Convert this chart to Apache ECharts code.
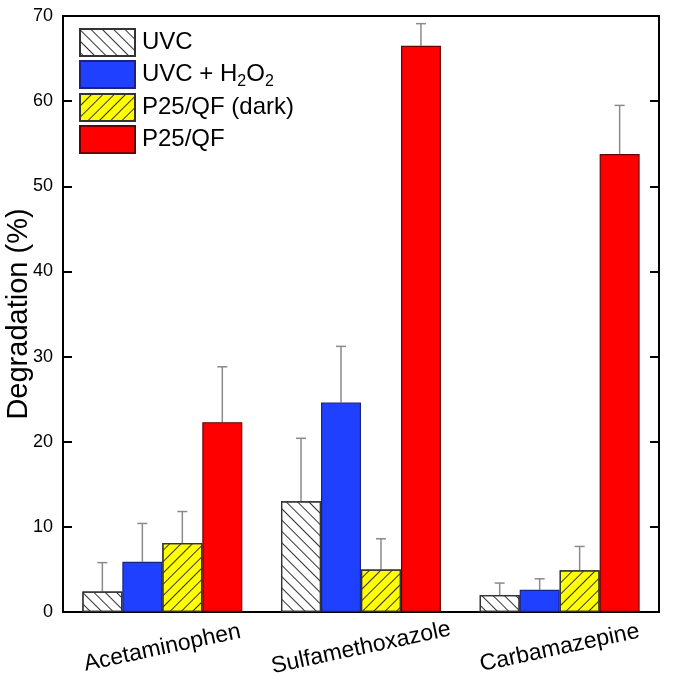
<!DOCTYPE html>
<html>
<head>
<meta charset="utf-8">
<script src="https://cdn.jsdelivr.net/npm/echarts@6/dist/echarts.min.js"></script>
<style>
  html, body { margin: 0; padding: 0; background: #fff; }
  #main { width: 679px; height: 680px; }
</style>
</head>
<body>
<div id="main"></div>
<script>
// compounds on the x axis
var categories = ['Acetaminophen', 'Sulfamethoxazole', 'Carbamazepine'];
var seriesNames = ['UVC', 'UVC + H2O2', 'P25/QF (dark)', 'P25/QF'];
// mean degradation (%)
var uvc = [2.4, 13.0, 2.0];
var uvcH2o2 = [5.9, 24.6, 2.6];
var p25Dark = [8.1, 5.0, 4.9];
var p25 = [22.3, 66.5, 53.8];
// top of the error bars (%)
var uvcErr = [5.8, 20.4, 3.4];
var uvcH2o2Err = [10.4, 31.2, 3.9];
var p25DarkErr = [11.8, 8.6, 7.7];
var p25Err = [28.8, 69.1, 59.5];
var yTicks = [0, 10, 20, 30, 40, 50, 60, 70];

var FONT = 'Arial, "Liberation Sans", sans-serif';
var GAP = 0.195; // barCategoryGap fraction

var chart = echarts.init(document.getElementById('main'));

function hatch(rot) {
  return {
    symbol: 'rect',
    symbolSize: 1,
    color: '#333',
    backgroundColor: null,
    dashArrayX: [1, 0],
    dashArrayY: [1, 7],
    rotation: rot
  };
}

var barDefs = [
  { data: uvc, color: '#ffffff', border: '#333', decal: hatch(Math.PI / 4) },
  { data: uvcH2o2, color: '#2040ff', border: '#1a237e', decal: null },
  { data: p25Dark, color: '#ffff00', border: '#333', decal: hatch(-Math.PI / 4) },
  { data: p25, color: '#ff0000', border: '#6b0000', decal: null }
];
var errs = [uvcErr, uvcH2o2Err, p25DarkErr, p25Err];

var series = barDefs.map(function (b, i) {
  var st = { color: b.color, borderColor: b.border, borderWidth: 1.2 };
  if (b.decal) st.decal = b.decal;
  return {
    name: seriesNames[i],
    type: 'bar',
    data: b.data,
    barGap: '0%',
    barCategoryGap: (GAP * 100) + '%',
    itemStyle: st,
    emphasis: { disabled: true },
    z: 2
  };
});

// upward error bars
errs.forEach(function (err, si) {
  var vals = barDefs[si].data;
  series.push({
    type: 'custom',
    name: 'err' + si,
    data: vals.map(function (v, ci) { return [ci, v, err[ci]]; }),
    z: 1,
    silent: true,
    renderItem: function (params, api) {
      var base = api.coord([api.value(0), api.value(1)]);
      var top = api.coord([api.value(0), api.value(2)]);
      var band = api.size([1, 0])[0];
      var bw = band * (1 - GAP) / 4;
      var x = base[0] + (si - 1.5) * bw;
      var cap = 5;
      var style = { stroke: '#8a8a8a', lineWidth: 1.5 };
      return {
        type: 'group',
        children: [
          { type: 'line', shape: { x1: x, y1: base[1], x2: x, y2: top[1] }, style: style },
          { type: 'line', shape: { x1: x - cap, y1: top[1], x2: x + cap, y2: top[1] }, style: style }
        ]
      };
    }
  });
});

chart.setOption({
  backgroundColor: '#fff',
  animation: false,
  textStyle: { fontFamily: FONT },
  grid: {
    left: 63, right: 20, top: 16, bottom: 68,
    outerBoundsMode: 'none',
    containLabel: false,
    show: true, borderColor: '#000', borderWidth: 2, backgroundColor: 'transparent'
  },
  legend: {
    data: seriesNames,
    orient: 'vertical',
    left: 79, top: 28,
    padding: 0,
    itemWidth: 55, itemHeight: 27, itemGap: 3,
    selectedMode: false,
    icon: 'rect',
    textStyle: { fontSize: 24, color: '#000', fontFamily: FONT, padding: [0, 0, 0, 2],
      rich: {
        a: { fontSize: 24, color: '#000', fontFamily: FONT },
        s: { fontSize: 16, color: '#000', fontFamily: FONT, padding: [15, 0, 0, 0] }
      }
    },
    formatter: function (n) {
      if (n === 'UVC + H2O2') return '{a|UVC + H}{s|2}{a|O}{s|2}';
      return '{a|' + n + '}';
    }
  },
  xAxis: {
    type: 'category',
    data: categories,
    axisLine: { lineStyle: { color: '#000', width: 2 } },
    axisTick: { alignWithLabel: true, length: 8, lineStyle: { color: '#000', width: 2 } },
    axisLabel: { fontSize: 23, color: '#000', rotate: 12, align: 'center', margin: 36, fontFamily: FONT }
  },
  yAxis: [{
    type: 'value',
    min: 0, max: 70, interval: 10,
    name: 'Degradation (%)',
    nameLocation: 'middle',
    nameGap: 30,
    nameMoveOverlap: false,
    nameTextStyle: { fontSize: 29, color: '#000', fontFamily: FONT },
    axisLine: { show: true, lineStyle: { color: '#000', width: 2 } },
    axisTick: { show: true, inside: true, length: 9, lineStyle: { color: '#000', width: 2 } },
    axisLabel: { fontSize: 18, color: '#000', margin: 10, fontFamily: FONT,
      formatter: function (v) { return yTicks.indexOf(v) >= 0 ? String(v) : ''; } },
    splitLine: { show: false }
  }, {
    type: 'value',
    position: 'right',
    min: 0, max: 70, interval: 10,
    axisLine: { show: true, lineStyle: { color: '#000', width: 2 } },
    axisTick: { show: true, inside: true, length: 9, lineStyle: { color: '#000', width: 2 } },
    axisLabel: { show: false },
    splitLine: { show: false }
  }],
  series: series
});
</script>
</body>
</html>
